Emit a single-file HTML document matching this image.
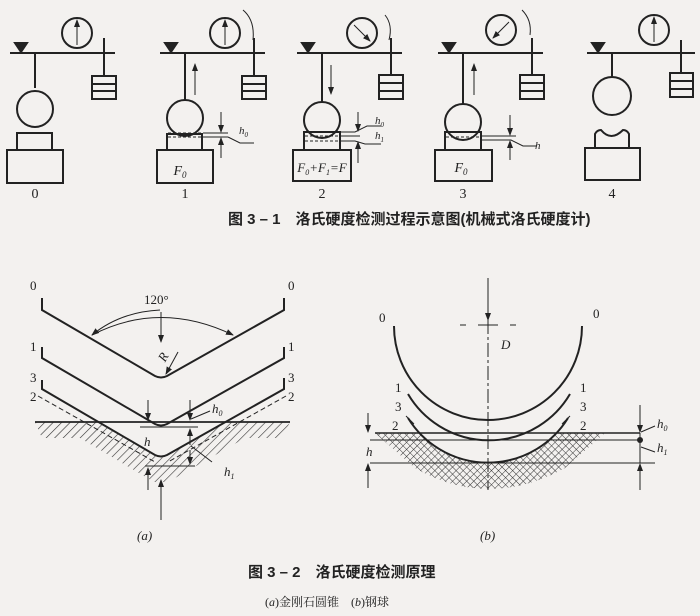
<!DOCTYPE html>
<html><head><meta charset="utf-8"><style>
html,body{margin:0;padding:0;background:#f3f1ef;}
svg{display:block}
text{font-family:"Liberation Serif","Noto Serif CJK SC",serif;fill:#222}
.cap{font-family:"Liberation Sans","Noto Sans CJK SC",sans-serif;font-weight:bold;font-size:15px}
</style></head><body>
<svg width="700" height="616" viewBox="0 0 700 616" xmlns="http://www.w3.org/2000/svg">
<defs>
<pattern id="hat" width="6" height="6" patternUnits="userSpaceOnUse" patternTransform="rotate(45)">
<line x1="0" y1="0" x2="0" y2="6" stroke="#333" stroke-width="1.2"/></pattern>
<pattern id="xh" width="5" height="5" patternUnits="userSpaceOnUse" patternTransform="rotate(45)">
<path d="M0 0V5M0 0H5" stroke="#333" stroke-width="1"/></pattern>
<marker id="ar" markerWidth="8" markerHeight="8" refX="7" refY="4" orient="auto" markerUnits="userSpaceOnUse"><path d="M0 1L8 4L0 7z" fill="#222"/></marker>
</defs>
<g stroke="#222" stroke-width="2" fill="none">
<g>
<line x1="10" y1="53" x2="115" y2="53"/><path d="M15 43h12l-6 9z" fill="#222"/>
<circle cx="77" cy="33" r="15"/><line x1="77" y1="45" x2="77" y2="20" stroke-width="1" marker-end="url(#ar)"/>
<line x1="35" y1="53" x2="35" y2="88"/><circle cx="35" cy="109" r="18"/>
<line x1="104" y1="38" x2="104" y2="76"/><rect x="92" y="76" width="24" height="23"/><path d="M92 84h24M92 91h24"/>
<rect x="17" y="133" width="35" height="17"/><rect x="7" y="150" width="56" height="33"/>
</g>
<g>
<line x1="160" y1="53" x2="265" y2="53"/><path d="M165 43h12l-6 9z" fill="#222"/>
<circle cx="225" cy="33" r="15"/><line x1="225" y1="45" x2="225" y2="20" stroke-width="1" marker-end="url(#ar)"/>
<path d="M243 10q12 10 10 30" stroke-width="1"/>
<line x1="185" y1="53" x2="185" y2="100"/><circle cx="185" cy="118" r="18"/>
<line x1="195" y1="95" x2="195" y2="64" stroke-width="1" marker-end="url(#ar)"/>
<line x1="254" y1="38" x2="254" y2="76"/><rect x="242" y="76" width="24" height="23"/><path d="M242 84h24M242 91h24"/>
<rect x="167" y="134" width="35" height="16"/><rect x="157" y="150" width="56" height="33"/>
<path d="M168 133h33M168 137h33" stroke-width="1" stroke-dasharray="3 2"/>
<path d="M203 133h25M203 137h25M228 137l12 6h14" stroke-width="1"/>
<line x1="221" y1="112" x2="221" y2="132" stroke-width="1" marker-end="url(#ar)"/>
<line x1="221" y1="158" x2="221" y2="138" stroke-width="1" marker-end="url(#ar)"/>
</g>
<g>
<line x1="297" y1="53" x2="402" y2="53"/><path d="M302 43h12l-6 9z" fill="#222"/>
<circle cx="362" cy="33" r="15"/><line x1="354" y1="25" x2="370" y2="41" stroke-width="1" marker-end="url(#ar)"/>
<path d="M385 15q8 10 4 25" stroke-width="1"/>
<line x1="322" y1="53" x2="322" y2="102"/><circle cx="322" cy="120" r="18"/>
<line x1="331" y1="65" x2="331" y2="94" stroke-width="1" marker-end="url(#ar)"/>
<line x1="391" y1="38" x2="391" y2="75"/><rect x="379" y="75" width="24" height="24"/><path d="M379 83h24M379 91h24"/>
<rect x="304" y="132" width="36" height="18"/><rect x="293" y="150" width="58" height="31"/>
<path d="M305 132h34M305 136h34M305 141h34" stroke-width="1" stroke-dasharray="3 2"/>
<path d="M340 132h15l12-6h14M340 136h20M340 141h15l10 3h16" stroke-width="1"/>
<line x1="358" y1="112" x2="358" y2="131" stroke-width="1" marker-end="url(#ar)"/>
<line x1="358" y1="163" x2="358" y2="142" stroke-width="1" marker-end="url(#ar)"/>
</g>
<g>
<line x1="438" y1="53" x2="543" y2="53"/><path d="M443 43h12l-6 9z" fill="#222"/>
<circle cx="501" cy="30" r="15"/><line x1="509" y1="22" x2="493" y2="38" stroke-width="1" marker-end="url(#ar)"/>
<path d="M522 10q10 10 8 25" stroke-width="1"/>
<line x1="463" y1="53" x2="463" y2="104"/><circle cx="463" cy="122" r="18"/>
<line x1="474" y1="95" x2="474" y2="64" stroke-width="1" marker-end="url(#ar)"/>
<line x1="532" y1="38" x2="532" y2="75"/><rect x="520" y="75" width="24" height="24"/><path d="M520 83h24M520 91h24"/>
<rect x="445" y="132" width="36" height="18"/><rect x="435" y="150" width="57" height="31"/>
<path d="M446 132h34M446 137h34" stroke-width="1" stroke-dasharray="3 2"/>
<path d="M481 136h35M481 140h30l12 6h14" stroke-width="1"/>
<line x1="510" y1="115" x2="510" y2="135" stroke-width="1" marker-end="url(#ar)"/>
<line x1="510" y1="160" x2="510" y2="141" stroke-width="1" marker-end="url(#ar)"/>
</g>
<g>
<line x1="587" y1="53" x2="695" y2="53"/><path d="M592 43h12l-6 9z" fill="#222"/>
<circle cx="654" cy="30" r="15"/><line x1="654" y1="42" x2="654" y2="17" stroke-width="1" marker-end="url(#ar)"/>
<line x1="612" y1="53" x2="612" y2="77"/><circle cx="612" cy="96" r="19"/>
<line x1="681" y1="40" x2="681" y2="73"/><rect x="670" y="73" width="23" height="24"/><path d="M670 81h23M670 89h23"/>
<path d="M595 148v-14q2-4 6-4q10 12 22 0q4 0 6 4v14"/><rect x="585" y="148" width="55" height="32"/>
</g>
</g>
<g font-size="14" text-anchor="middle">
<text x="35" y="198">0</text><text x="185" y="198">1</text><text x="322" y="198">2</text><text x="463" y="198">3</text><text x="612" y="198">4</text>
</g>
<text x="180" y="175" font-size="14" font-style="italic" text-anchor="middle">F<tspan font-size="9" dy="3">0</tspan></text>
<text x="322" y="172" font-size="13" font-style="italic" text-anchor="middle">F<tspan font-size="8" dy="3">0</tspan><tspan dy="-3">+F</tspan><tspan font-size="8" dy="3">1</tspan><tspan dy="-3">=F</tspan></text>
<text x="461" y="172" font-size="14" font-style="italic" text-anchor="middle">F<tspan font-size="9" dy="3">0</tspan></text>
<text x="239" y="134" font-size="11" font-style="italic">h<tspan font-size="7" dy="3">0</tspan></text>
<text x="375" y="124" font-size="11" font-style="italic">h<tspan font-size="7" dy="3">0</tspan></text>
<text x="375" y="139" font-size="11" font-style="italic">h<tspan font-size="7" dy="3">1</tspan></text>
<text x="535" y="149" font-size="11" font-style="italic">h</text>
<text x="228" y="224" class="cap">图 3 – 1　洛氏硬度检测过程示意图(机械式洛氏硬度计)</text>

<path d="M35 422H290L282 438H245L168 482H154L80 438H42z" fill="url(#hat)"/>
<path d="M98 422H226L167 456Q161 459 155 456z" fill="#f3f1ef"/>
<g stroke="#222" fill="none" stroke-width="2">
<path d="M42 298v12L155 376q6 3 12 0L284 310v-12"/>
<path d="M42 347v11L155 424q6 3 12 0L284 358v-11"/>
<path d="M42 380v9L155 455q6 3 12 0L284 389v-11"/>
<line x1="35" y1="422" x2="290" y2="422" stroke-width="1.8"/>
</g>
<g stroke="#222" fill="none" stroke-width="1">
<path d="M38 396L155 462" stroke-dasharray="5 3"/><path d="M286 396L168 462" stroke-dasharray="5 3"/>
<path d="M92 335Q160 300 233 335" marker-end="url(#ar)"/><path d="M160 310Q120 312 92 335" marker-end="url(#ar)"/>
<line x1="161" y1="312" x2="161" y2="342" marker-end="url(#ar)"/>
<path d="M178 352L166 374" marker-end="url(#ar)"/>
<path d="M140 427h58M145 466h50"/>
<line x1="148" y1="400" x2="148" y2="420" marker-end="url(#ar)"/>
<line x1="190" y1="400" x2="190" y2="420" marker-end="url(#ar)"/>
<line x1="190" y1="445" x2="190" y2="429" marker-end="url(#ar)"/>
<line x1="190" y1="450" x2="190" y2="464" marker-end="url(#ar)"/>
<line x1="148" y1="490" x2="148" y2="468" marker-end="url(#ar)"/>
<line x1="161" y1="520" x2="161" y2="480" marker-end="url(#ar)"/>
<path d="M191 419L210 411M191 446L212 462"/>
</g>
<g font-size="13">
<text x="30" y="290">0</text><text x="288" y="290">0</text>
<text x="30" y="351">1</text><text x="288" y="351">1</text>
<text x="30" y="382">3</text><text x="288" y="382">3</text>
<text x="30" y="401">2</text><text x="288" y="401">2</text>
<text x="144" y="304">120°</text>
<text x="160" y="362" font-style="italic" transform="rotate(-60 163 358)">R</text>
<text x="212" y="413" font-style="italic">h<tspan font-size="8" dy="3">0</tspan></text>
<text x="144" y="446" font-style="italic">h</text>
<text x="224" y="476" font-style="italic">h<tspan font-size="8" dy="3">1</tspan></text>
<text x="137" y="540" font-style="italic">(<tspan>a</tspan>)</text>
</g>

<path d="M375 433H605L565 468Q488 510 415 468z" fill="url(#xh)"/>
<circle cx="488" cy="369" r="94" fill="#f3f1ef"/>
<g stroke="#222" fill="none" stroke-width="2">
<path d="M394 326A94 94 0 0 0 582 326"/>
<path d="M408 394A94 94 0 0 0 570 394"/>
<path d="M408 418A94 94 0 0 0 568 418"/>
</g>
<g stroke="#222" fill="none" stroke-width="1">
<line x1="375" y1="433" x2="640" y2="433" stroke-width="1.5"/>
<line x1="370" y1="440" x2="640" y2="440"/>
<line x1="370" y1="463" x2="655" y2="463"/>
<line x1="488" y1="278" x2="488" y2="320" marker-end="url(#ar)"/>
<line x1="488" y1="320" x2="488" y2="490" stroke-dasharray="14 3 3 3"/>
<path d="M460 325h6M478 325h20M510 325h6"/>
<path d="M406 416l8 8M570 416l-8 8"/>
<line x1="368" y1="413" x2="368" y2="432" marker-end="url(#ar)"/>
<line x1="368" y1="488" x2="368" y2="464" marker-end="url(#ar)"/>
<line x1="640" y1="405" x2="640" y2="432" marker-end="url(#ar)"/>
<line x1="640" y1="490" x2="640" y2="464" marker-end="url(#ar)"/>
<line x1="640" y1="433" x2="640" y2="463"/>
<path d="M641 432L655 426M641 447L655 452"/>
</g>
<circle cx="640" cy="440" r="3" fill="#222"/>
<g font-size="13">
<text x="379" y="322">0</text><text x="593" y="318">0</text>
<text x="395" y="392">1</text><text x="580" y="392">1</text>
<text x="395" y="411">3</text><text x="580" y="411">3</text>
<text x="392" y="430">2</text><text x="580" y="430">2</text>
<text x="501" y="349" font-style="italic">D</text>
<text x="366" y="456" font-style="italic">h</text>
<text x="657" y="428" font-style="italic">h<tspan font-size="8" dy="3">0</tspan></text>
<text x="657" y="452" font-style="italic">h<tspan font-size="8" dy="3">1</tspan></text>
<text x="480" y="540" font-style="italic">(b)</text>
</g>
<text x="248" y="577" class="cap">图 3 – 2　洛氏硬度检测原理</text>
<text x="265" y="606" font-size="12" font-family="Liberation Serif,Noto Serif CJK SC,serif">(<tspan font-style="italic">a</tspan>)金刚石圆锥　(<tspan font-style="italic">b</tspan>)钢球</text>
</svg>
</body></html>
